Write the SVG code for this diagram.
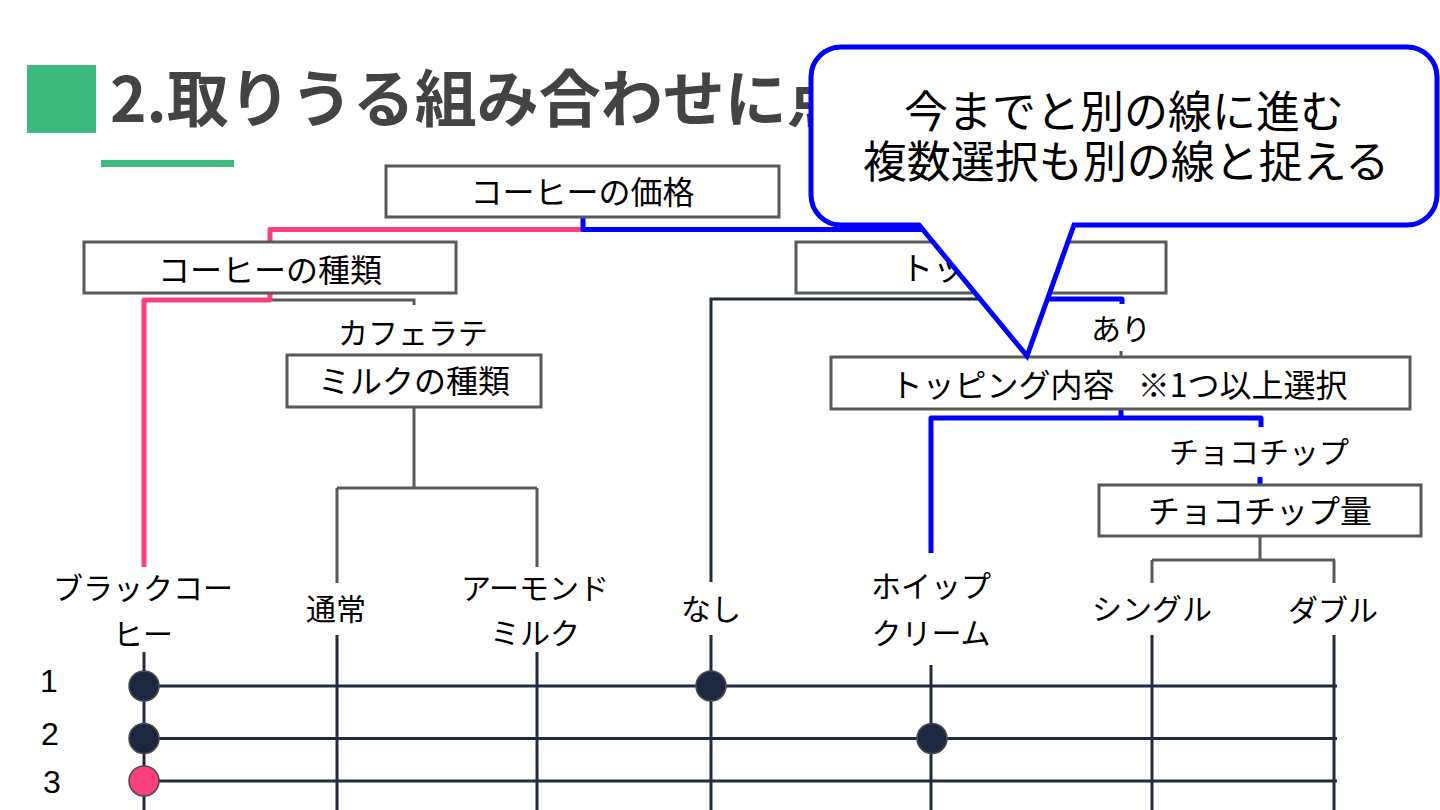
<svg xmlns="http://www.w3.org/2000/svg" width="1440" height="810" viewBox="0 0 1440 810">
<style>
.box{fill:#fff;stroke:#595959;stroke-width:3}
.t{font-family:"Noto Sans CJK JP","Noto Sans CJK SC",sans-serif;fill:#000;text-anchor:middle}
.ct{font-family:"Liberation Sans","Noto Sans CJK JP",sans-serif;font-size:44px;fill:#000;text-anchor:middle}
.bt{font-size:32px}
.lbl{font-size:30px}
.num{font-family:"Liberation Sans",Arial,sans-serif;font-size:32px;fill:#000;text-anchor:middle}
.gray{stroke:#595959;stroke-width:3;fill:none}
.navy{stroke:#222a3f;stroke-width:3;fill:none}
.pink{stroke:#fb3f7d;stroke-width:5;fill:none;stroke-linejoin:round}
.blue{stroke:#0000ff;stroke-width:5;fill:none;stroke-linejoin:round}
.dot{fill:#1e2740;stroke:#4a4a4a;stroke-width:1.5}
.dotp{fill:#fb3f7d;stroke:#4a4a4a;stroke-width:1.5}
</style>
<rect width="1440" height="810" fill="#fff"/>
<g id="title">
<rect x="27" y="65" width="69" height="68" fill="#3db87f"/>
<text x="110" y="122" font-family="'Noto Sans CJK JP',sans-serif" font-weight="700" font-size="62" fill="#434343">2.取りうる組み合わせに点</text>
<rect x="101" y="160" width="133" height="7" fill="#3db87f"/>
</g>
<g id="connectors">
<path class="pink" d="M270,242 V229.5 H583"/>
<path class="blue" d="M583,217 V229.5 H981 V242"/>
<path class="gray" d="M270,300 H414 V305"/>
<path class="pink" d="M270,293 V300 H144 V567"/>
<path class="gray" d="M414,407 V488 M337,488 H537 M337,488 V583 M537,488 V567"/>
<path class="navy" d="M981,299 H711 V582"/>
<path class="blue" d="M981,293 V299 H1122 V304"/>
<path class="gray" d="M1121,351 V357"/>
<path class="blue" d="M1121,409 V418 M931,553 V418 H1261 V427"/>
<path class="blue" d="M1260,477 V484"/>
<path class="gray" d="M1260,536 V560 M1152,560 H1335 M1152,560 V583 M1334,560 V583"/>
<path class="navy" d="M144,652 V810 M337,635 V810 M537,652 V810 M711,635 V810 M931,665 V810 M1152,635 V810 M1334,635 V810"/>
<path class="navy" d="M144,686 H1337 M144,738.5 H1337 M144,781 H1337"/>
</g>
<g id="node-price"><rect class="box" x="386" y="166" width="393" height="51"/><text class="t bt" x="582.5" y="204">コーヒーの価格</text></g>
<g id="node-coffee-type"><rect class="box" x="84" y="242" width="372" height="51"/><text class="t bt" x="270" y="282">コーヒーの種類</text></g>
<g id="node-topping"><rect class="box" x="796" y="242" width="370" height="51"/><text class="t bt" x="981" y="280">トッピング</text></g>
<g id="label-latte"><text class="t lbl" x="413" y="344">カフェラテ</text></g>
<g id="node-milk-type"><rect class="box" x="287" y="355" width="254" height="52"/><text class="t bt" x="414" y="393">ミルクの種類</text></g>
<g id="label-ari"><text class="t lbl" x="1121" y="340">あり</text></g>
<g id="node-topping-content"><rect class="box" x="831" y="357" width="579" height="52"/><text class="t bt" x="1119" y="397" xml:space="preserve" style="white-space:pre">トッピング内容&#8194; ※1つ以上選択</text></g>
<g id="label-choco"><text class="t lbl" x="1259" y="463">チョコチップ</text></g>
<g id="node-choco-amount"><rect class="box" x="1099" y="485" width="322" height="51"/><text class="t bt" x="1260" y="523">チョコチップ量</text></g>
<g id="leaf-black"><text class="t lbl" x="143" y="599">ブラックコー</text><text class="t lbl" x="143" y="645">ヒー</text></g>
<g id="leaf-normal"><text class="t lbl" x="336" y="620">通常</text></g>
<g id="leaf-almond"><text class="t lbl" x="535" y="599">アーモンド</text><text class="t lbl" x="535" y="644">ミルク</text></g>
<g id="leaf-none"><text class="t lbl" x="711" y="620">なし</text></g>
<g id="leaf-whip"><text class="t lbl" x="931" y="597">ホイップ</text><text class="t lbl" x="931" y="644">クリーム</text></g>
<g id="leaf-single"><text class="t lbl" x="1152" y="620">シングル</text></g>
<g id="leaf-double"><text class="t lbl" x="1333" y="621">ダブル</text></g>
<g id="rows">
<text class="num" x="49" y="692">1</text>
<text class="num" x="50" y="745">2</text>
<text class="num" x="52" y="793">3</text>
<circle class="dot" cx="144" cy="686" r="15"/>
<circle class="dot" cx="711" cy="686" r="15"/>
<circle class="dot" cx="144" cy="738.5" r="15"/>
<circle class="dot" cx="932" cy="738.5" r="15"/>
<circle class="dotp" cx="144" cy="781" r="15"/>
</g>
<g id="callout">
<path d="M841,47 H1407 A30,30 0 0 1 1437,77 V195 A30,30 0 0 1 1407,225 H1074 L1027,356 L919,225 H841 A30,30 0 0 1 811,195 V77 A30,30 0 0 1 841,47 Z" fill="#fff" stroke="#0000ff" stroke-width="5"/>
<text class="ct" x="1124" y="128">今までと別の線に進む</text>
<text class="ct" x="1126" y="178">複数選択も別の線と捉える</text>
</g>
</svg>
